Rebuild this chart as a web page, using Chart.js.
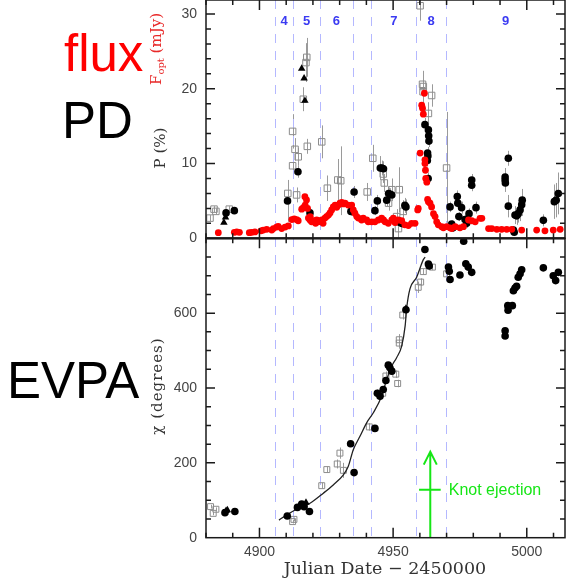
<!DOCTYPE html>
<html>
<head>
<meta charset="utf-8">
<script src="https://cdn.jsdelivr.net/npm/chart.js@4.4.1/dist/chart.umd.min.js"></script>
<style>
  html, body { margin: 0; padding: 0; background: #fff; }
  #wrap { position: relative; width: 566px; height: 580px; overflow: hidden; background: #fff; }
  #c { position: absolute; left: 0; top: 0; }
  .big { position: absolute; font-family: "Liberation Sans", Arial, sans-serif; font-size: 51px; line-height: 1; white-space: nowrap; }
  .ytitle { position: absolute; font-family: "DejaVu Serif", serif; font-size: 15px; line-height: 1; white-space: nowrap;
            transform: translate(-50%, -50%) rotate(-90deg); color: #333; }
  .ytitle sub { font-size: 10px; vertical-align: -3px; }
  .xtitle { position: absolute; font-family: "DejaVu Serif", serif; font-size: 17.5px; line-height: 1; white-space: nowrap;
            transform: translateX(-50%); color: #333; }
</style>
</head>
<body>
<div id="wrap">
  <canvas id="c" width="566" height="580"></canvas>
  <div class="big" style="left:64px; top:28px; color:#ff0000;">flux</div>
  <div class="big" style="left:62px; top:95px; color:#000;">PD</div>
  <div class="big" style="left:7px; top:355px; color:#000;">EVPA</div>
  <div class="ytitle" style="left:157px; top:49px; color:#e82828;">F<sub>opt</sub> (mJy)</div>
  <div class="ytitle" style="left:160px; top:148px;">P (%)</div>
  <div class="ytitle" style="left:157px; top:386px; letter-spacing:1px;">χ (degrees)</div>
  <div class="xtitle" style="left:385px; top:560px;">Julian Date − 2450000</div>
</div>
<script>
// Optical flux, mJy: [JD - 2450000, flux]
const fluxOpt = [
  [4884.6,0.75],[4890.6,0.8],[4891.5,0.85],[4892.5,0.8],[4896.2,0.75],[4897.1,0.8],[4898.3,0.85],
  [4900.6,1.0],[4901.4,1.1],[4902.7,1.2],[4904.6,1.1],[4905.2,1.3],[4906.4,1.5],[4907.0,1.6],
  [4908.3,1.3],[4909.6,1.5],[4910.8,1.65],[4912.1,2.5],[4913.0,2.6],[4913.9,2.5],[4914.5,2.35],
  [4915.8,3.9],[4916.4,4.1],[4917.0,5.57],[4917.6,5.12],[4917.1,4.45],[4918.0,4.0],[4918.3,2.7],
  [4918.9,2.45],[4919.0,2.9],[4919.5,2.2],[4920.1,2.35],[4921.0,2.0],[4921.4,2.45],[4922.0,2.2],
  [4923.3,2.45],[4923.8,2.0],[4924.5,2.7],[4925.1,2.9],[4925.8,3.1],[4926.4,3.4],[4927.0,3.8],
  [4927.6,4.2],[4928.3,4.45],[4928.9,4.15],[4929.5,4.45],[4930.1,4.7],[4930.8,4.8],[4931.4,4.6],
  [4932.0,4.7],[4933.2,4.45],[4934.5,4.45],[4935.1,3.8],[4935.7,3.35],[4936.4,2.9],[4937.0,2.7],
  [4938.2,2.45],[4938.8,2.7],[4940.1,2.45],[4940.7,2.2],[4942.0,2.2],[4943.2,2.2],[4944.5,2.45],
  [4945.7,2.7],[4946.4,2.45],[4947.0,2.2],[4948.2,2.0],[4949.5,2.45],[4950.1,2.7],[4950.7,2.1],
  [4951.9,2.45],[4953.2,2.35],[4954.4,1.8],[4955.7,1.7],[4956.9,2.0],[4958.2,2.0],[4959.2,3.8],
  [4959.4,4.0],[4960.1,11.4],[4960.7,17.8],[4961.0,17.4],[4961.3,16.6],[4961.7,19.4],[4961.9,10.5],
  [4961.9,10.0],[4962.1,9.1],[4962.2,8.0],[4962.6,7.5],[4962.9,5.2],[4963.2,4.9],[4963.8,4.7],
  [4964.4,4.2],[4965.1,3.3],[4965.7,2.9],[4966.3,2.2],[4966.9,1.8],[4968.2,1.56],[4968.8,1.4],
  [4970.0,1.56],[4971.3,1.4],[4971.9,1.3],[4973.2,1.56],[4975.0,1.4],[4976.3,1.56],[4978.2,2.45],
  [4979.4,2.35],[4980.7,2.2],[4982.5,2.67],[4983.2,2.67],[4985.7,1.3],[4986.9,1.3],[4988.8,1.2],
  [4990.6,1.2],[4992.5,1.2],[4994.4,1.2],[4998.1,1.1],[5003.7,1.1],[5006.8,1.0],[5009.9,1.1],
  [5012.5,1.2]
];

// Polarization degree, %: [JD, P, error]
const polCircles = [
  [4887.5,3.4,0.5],[4890.6,3.7,0.4],[4910.5,5.0,2.8],[4914.4,8.9,0.8],[4918.9,3.4,0.6],
  [4934.2,3.6,0.6],[4935.4,6.2,0.8],[4943.2,3.7,0.6],[4944.1,5.0,0.8],[4945.2,9.4,1.6],
  [4945.8,9.4,1.0],[4946.4,9.3,1.0],[4947.6,5.1,0.8],[4948.3,6.0,0.8],[4948.9,5.9,0.8],
  [4949.5,5.8,0.8],[4952.2,2.3,0.6],[4952.7,2.1,0.6],[4953.2,2.0,0.6],[4954.4,4.4,1.0],
  [4954.8,4.2,1.0],[4961.9,15.2,0.9],[4963.2,14.5,0.9],[4963.3,13.7,0.8],[4963.4,13.0,0.8],
  [4962.9,11.4,0.8],[4963.0,11.0,0.8],[4962.8,10.4,0.8],[4963.1,8.0,0.8],[4971.3,4.2,0.7],
  [4971.9,1.9,0.5],[4972.4,1.4,0.5],[4974.0,5.6,0.8],[4974.2,4.7,0.8],[4975.6,4.1,0.8],
  [4974.6,2.9,0.6],[4976.9,2.5,0.6],[4977.5,2.0,0.6],[4978.4,3.3,0.7],[4979.4,7.8,0.8],
  [4979.4,7.1,0.8],[4981.0,4.1,0.8],[4991.9,8.2,1.2],[4991.9,7.8,1.2],[4992.0,7.4,1.2],
  [4993.1,10.7,1.0],[4993.1,4.3,1.5],[4995.0,1.1,0.5],[4995.3,0.8,0.5],[4995.6,3.1,1.2],
  [4996.2,3.0,1.2],[4996.8,3.3,1.2],[4997.5,3.8,1.5],[4998.1,4.5,1.5],[4998.3,5.1,1.5],
  [5006.2,2.4,0.8],[5010.3,4.9,2.3],[5011.0,5.1,2.3],[5011.8,6.0,2.8]
];
const polSquares = [
  [4881.5,2.7,0.4],[4883.0,3.9,0.4],[4883.7,3.6,0.4],[4888.7,3.9,0.4],
  [4910.6,6.0,1.8],[4912.4,14.3,2.3],[4912.4,9.7,1.5],[4913.3,11.9,1.5],[4914.5,10.9,1.2],
  [4913.9,5.8,1.0],[4916.4,18.6,1.6],[4917.4,23.5,2.6],[4917.7,24.2,2.6],[4917.9,12.3,1.0],
  [4923.3,12.9,2.2],[4925.4,6.7,1.7],[4929.3,7.8,2.8],[4930.4,7.7,4.6],[4940.3,6.2,1.2],
  [4942.4,10.7,1.8],[4946.3,8.6,1.2],[4946.7,7.4,1.2],[4948.3,4.7,1.0],[4949.5,6.5,1.5],
  [4952.3,6.5,3.0],[4951.3,2.9,1.0],[4952.0,1.3,1.2],[4953.8,3.6,1.5],[4960.1,31.1,2.0],
  [4961.0,20.6,1.8],[4961.3,20.3,1.5],[4961.2,19.6,1.5],[4964.4,19.1,1.5],[4963.2,16.7,1.5],
  [4970.0,9.4,7.5]
];
const polTriangles = [
  [4886.7,2.1],[4887.3,2.8],[4915.8,22.7],[4916.7,21.4],[4917.0,18.4]
];

// Polarization angle chi, degrees: [JD, chi, error]
const evpaCircles = [
  [4887.1,67,0],[4890.8,70,0],[4910.4,58,0],[4914.2,81,0],[4915.8,90,0],[4916.7,83,0],
  [4918.7,70,0],[4934.1,251,0],[4935.4,174,0],[4943.2,292,0],[4944.1,386,10],[4945.1,378,0],
  [4946.3,396,0],[4947.3,420,0],[4948.2,461,0],[4948.8,454,0],[4949.5,445,0],[4954.8,609,10],
  [4961.9,770,0],[4963.2,731,0],[4963.5,726,0],[4970.7,723,0],[4971.0,712,0],[4971.3,690,0],
  [4975.0,702,0],[4976.4,792,0],[4977.2,732,0],[4978.1,723,0],[4979.4,709,0],[4991.9,553,0],
  [4991.9,539,0],[4992.9,620,0],[4993.0,608,0],[4994.6,620,0],[4995.0,660,0],[4995.6,667,0],
  [4996.2,672,0],[4996.8,696,0],[4997.5,705,0],[4998.1,716,0],[5006.2,721,0],[5009.9,700,0],
  [5010.8,687,0],[5011.8,709,0]
];
const evpaSquares = [
  [4881.7,83,5],[4882.7,65,5],[4883.7,76,5],[4912.4,43,5],[4912.9,49,5],[4923.3,139,8],
  [4925.2,182,8],[4929.1,197,12],[4930.1,226,15],[4931.4,180,20],[4941.1,296,10],[4946.1,386,10],
  [4947.3,432,12],[4951.0,437,10],[4951.7,412,10],[4952.3,529,15],[4952.3,520,15],[4953.6,595,12],
  [4959.4,669,15],[4960.3,683,10],[4961.3,711,8],[4964.7,723,8],[4970.0,705,8]
];
const evpaTriangles = [
  [4887.5,72],[4888.0,74],[4917.4,94],[4954.8,612]
];
// Smooth rotation curve
const evpaModel = [
  [4907.3,47],[4910.2,61],[4913.9,76],[4918.9,92],[4923.9,119],[4927.6,141],[4931.4,168],
  [4933.2,190],[4935.1,235],[4937.6,271],[4940.1,307],[4942.6,334],[4945.7,378],[4947.6,423],
  [4949.5,459],[4951.3,481],[4953.2,512],[4954.5,566],[4955.1,615],[4956.3,665],[4958.8,696],
  [4961.3,743],[4962.0,750]
];

// Flare periods
const periodEdges = [4905.9, 4912.5, 4922.7, 4934.9, 4941.8, 4958.7, 4969.7];
const periodNames = ['4', '5', '6', '7', '8', '9'];
const periodCenters = [4909.2, 4917.6, 4928.8, 4950.3, 4964.2, 4992.1];
const periodLabelLevel = 29;

// Knot ejection epoch
const knotDay = 4963.9;
const knotArrowTop = 230;
const knotBarLevel = 128;
const knotBarSpan = [4959.7, 4967.8];
const knotText = 'Knot ejection';
const knotTextDay = 4970.8;

// Axes
const dayRange = [4880, 5014.3];
const dayTicks = [4900, 4950, 5000];
const pRange = [0, 31.87];
const pTicks = [0, 10, 20, 30];
const chiRange = [0, 800];
const chiTicks = [0, 200, 400, 600];

const toPts = arr => arr.map(p => ({ x: p[0], y: p[1], e: p[2] || 0 }));

const errorBars = {
  id: 'errorBars',
  beforeDatasetsDraw(chart) {
    const ctx = chart.ctx;
    ctx.save();
    ctx.strokeStyle = '#9a9a9a';
    ctx.lineWidth = 1;
    chart.data.datasets.forEach((ds, i) => {
      if (!ds.errorBars) return;
      const meta = chart.getDatasetMeta(i);
      const ys = chart.scales[ds.yAxisID];
      ds.data.forEach((p, j) => {
        if (!p.e) return;
        const x = Math.round(meta.data[j].x) + 0.5;
        ctx.beginPath();
        ctx.moveTo(x, ys.getPixelForValue(p.y - p.e));
        ctx.lineTo(x, ys.getPixelForValue(p.y + p.e));
        ctx.stroke();
      });
    });
    ctx.restore();
  }
};

const periods = {
  id: 'periods',
  beforeDatasetsDraw(chart) {
    const { ctx, chartArea } = chart;
    const xs = chart.scales.x, yP = chart.scales.yP;
    ctx.save();
    ctx.strokeStyle = '#b4b8ff';
    ctx.lineWidth = 1;
    ctx.setLineDash([9, 8]);
    periodEdges.forEach(d => {
      const x = Math.round(xs.getPixelForValue(d)) + 0.5;
      ctx.beginPath();
      ctx.moveTo(x, chartArea.top);
      ctx.lineTo(x, chartArea.bottom);
      ctx.stroke();
    });
    ctx.setLineDash([]);
    ctx.fillStyle = '#3b3bf2';
    ctx.font = 'bold 13px "Liberation Sans", Arial, sans-serif';
    ctx.textAlign = 'center';
    ctx.textBaseline = 'middle';
    periodNames.forEach((n, i) => {
      ctx.fillText(n, xs.getPixelForValue(periodCenters[i]), yP.getPixelForValue(periodLabelLevel));
    });
    ctx.restore();
  }
};

const knot = {
  id: 'knot',
  afterDatasetsDraw(chart) {
    const ctx = chart.ctx;
    const xs = chart.scales.x, yE = chart.scales.yE;
    const x = xs.getPixelForValue(knotDay);
    const y0 = yE.getPixelForValue(0), y1 = yE.getPixelForValue(knotArrowTop);
    const yb = yE.getPixelForValue(knotBarLevel);
    ctx.save();
    ctx.strokeStyle = '#16e616';
    ctx.fillStyle = '#16e616';
    ctx.lineWidth = 2;
    ctx.beginPath();
    ctx.moveTo(x, y0); ctx.lineTo(x, y1);
    ctx.moveTo(x - 6.5, y1 + 13); ctx.lineTo(x, y1); ctx.lineTo(x + 6.5, y1 + 13);
    ctx.moveTo(xs.getPixelForValue(knotBarSpan[0]), yb);
    ctx.lineTo(xs.getPixelForValue(knotBarSpan[1]), yb);
    ctx.stroke();
    ctx.font = '16px "Liberation Sans", Arial, sans-serif';
    ctx.textAlign = 'left';
    ctx.textBaseline = 'middle';
    ctx.fillText(knotText, xs.getPixelForValue(knotTextDay), yb + 1);
    ctx.restore();
  }
};

const frame = {
  id: 'frame',
  afterDraw(chart) {
    const { ctx, chartArea } = chart;
    const xs = chart.scales.x;
    const L = chartArea.left, R = chartArea.right;
    const panels = [
      { s: chart.scales.yP, minor: 2, major: 10 },
      { s: chart.scales.yE, minor: 50, major: 200 }
    ];
    ctx.save();
    ctx.strokeStyle = '#1a1a1a';
    ctx.lineWidth = 1.5;
    panels.forEach(p => {
      const T = p.s.top, B = p.s.bottom;
      ctx.strokeRect(L, T, R - L, B - T);
      ctx.beginPath();
      const n = Math.floor(p.s.max / p.minor + 1e-6);
      for (let i = 1; i <= n; i++) {
        const v = i * p.minor;
        if (v >= p.s.max - 1e-6) continue;
        const y = p.s.getPixelForValue(v);
        const len = (Math.abs(v / p.major - Math.round(v / p.major)) < 1e-6) ? 9 : 5;
        ctx.moveTo(L, y); ctx.lineTo(L + len, y);
        ctx.moveTo(R, y); ctx.lineTo(R - len, y);
      }
      for (let d = Math.ceil(xs.min / 10) * 10; d <= xs.max; d += 10) {
        const x = xs.getPixelForValue(d);
        const len = (d % 50 === 0) ? 10 : 5;
        ctx.moveTo(x, B); ctx.lineTo(x, B - len);
        ctx.moveTo(x, T); ctx.lineTo(x, T + len);
      }
      ctx.stroke();
    });
    ctx.lineWidth = 2.2;
    ctx.beginPath();
    ctx.moveTo(L, panels[0].s.bottom); ctx.lineTo(R, panels[0].s.bottom);
    ctx.stroke();
    ctx.restore();
  }
};

Chart.defaults.font.family = '"Liberation Sans", Arial, sans-serif';

// Scales keep no extra edge padding so the plot frame fills the canvas
const noPad = s => { s.paddingTop = 0; s.paddingBottom = 0; s.paddingLeft = 0; s.paddingRight = 0; };

const tickFont = { size: 14 };
const yScale = (range, ticks, weight) => ({
  type: 'linear', position: 'left', stack: 'panels', stackWeight: weight,
  min: range[0], max: range[1],
  grid: { display: false, drawTicks: false }, border: { display: false },
  ticks: { color: '#444', font: tickFont, padding: 9, callback: v => String(v) },
  afterBuildTicks: s => { s.ticks = ticks.map(v => ({ value: v })); },
  afterFit: s => { s.width = 206; noPad(s); }
});

new Chart(document.getElementById('c'), {
  type: 'scatter',
  data: {
    datasets: [
      { label: 'F_opt', data: toPts(fluxOpt), yAxisID: 'yP', pointStyle: 'circle', pointRadius: 3.4,
        backgroundColor: '#ff0000', borderColor: '#ff0000', borderWidth: 0 },
      { label: 'P', data: toPts(polCircles), yAxisID: 'yP', pointStyle: 'circle', pointRadius: 3.8,
        backgroundColor: '#000', borderColor: '#000', borderWidth: 0, errorBars: true },
      { label: 'P (triangles)', data: toPts(polTriangles), yAxisID: 'yP', pointStyle: 'triangle', pointRadius: 4.3,
        backgroundColor: '#000', borderColor: '#000', borderWidth: 0 },
      { label: 'P (squares)', data: toPts(polSquares), yAxisID: 'yP', pointStyle: 'rect', pointRadius: 4.6,
        backgroundColor: 'rgba(255,255,255,0)', borderColor: '#8c8c8c', borderWidth: 1, errorBars: true },
      { label: 'chi', data: toPts(evpaCircles), yAxisID: 'yE', pointStyle: 'circle', pointRadius: 3.8,
        backgroundColor: '#000', borderColor: '#000', borderWidth: 0, errorBars: true },
      { label: 'chi (triangles)', data: toPts(evpaTriangles), yAxisID: 'yE', pointStyle: 'triangle', pointRadius: 4.3,
        backgroundColor: '#000', borderColor: '#000', borderWidth: 0 },
      { label: 'chi model', type: 'line', data: toPts(evpaModel), yAxisID: 'yE', showLine: true,
        borderColor: '#222', borderWidth: 1.3, pointRadius: 0, tension: 0.4, cubicInterpolationMode: 'monotone', fill: false },
      { label: 'chi (squares)', data: toPts(evpaSquares), yAxisID: 'yE', pointStyle: 'rect', pointRadius: 4.2,
        backgroundColor: 'rgba(255,255,255,0)', borderColor: '#8c8c8c', borderWidth: 1, errorBars: true }
    ]
  },
  options: {
    responsive: false,
    animation: false,
    devicePixelRatio: 1,
    layout: { autoPadding: false, padding: { left: 0, right: 1, top: 0, bottom: 0 } },
    plugins: { legend: { display: false }, tooltip: { enabled: false } },
    scales: {
      x: {
        type: 'linear', position: 'bottom', min: dayRange[0], max: dayRange[1],
        grid: { display: false, drawTicks: false }, border: { display: false },
        ticks: { color: '#444', font: tickFont, padding: 6, maxRotation: 0, callback: v => String(v) },
        afterBuildTicks: s => { s.ticks = dayTicks.map(v => ({ value: v })); },
        afterFit: s => { s.height = 42.3; noPad(s); }
      },
      yE: yScale(chiRange, chiTicks, 299.4),
      yP: yScale(pRange, pTicks, 238.3)
    }
  },
  plugins: [errorBars, periods, knot, frame]
});
</script>
</body>
</html>
